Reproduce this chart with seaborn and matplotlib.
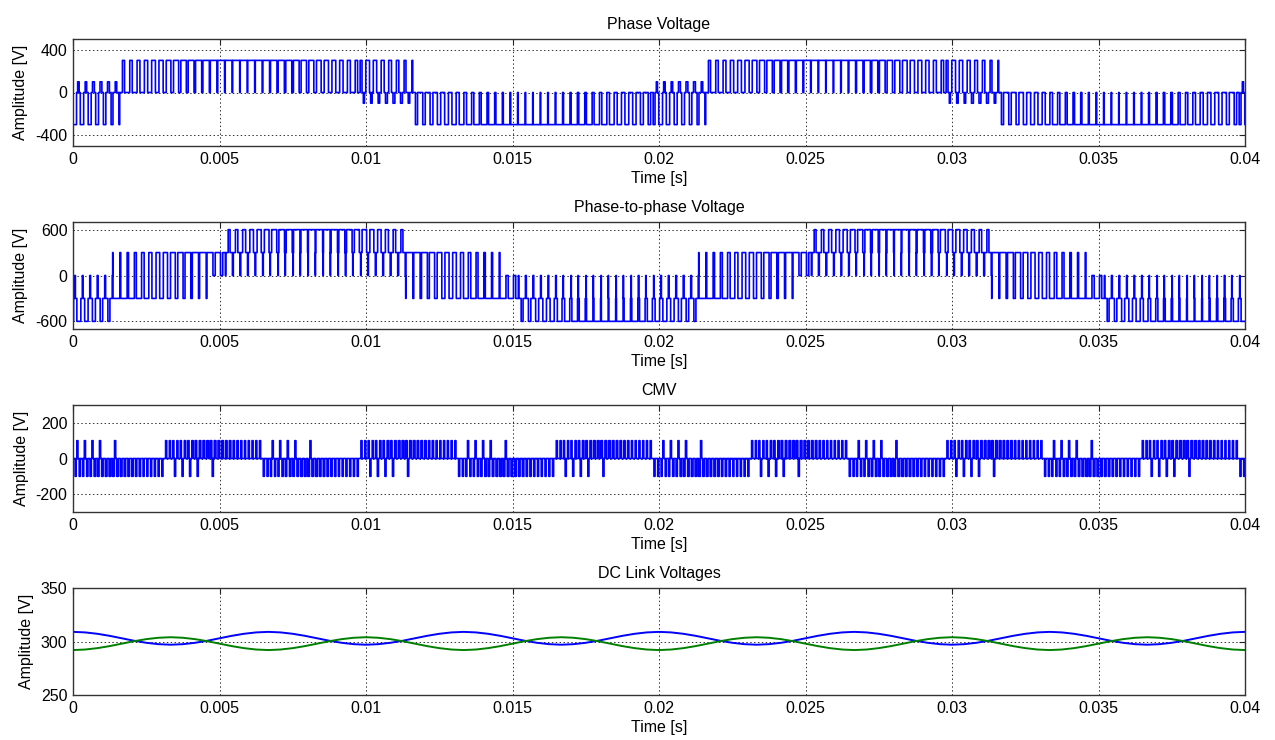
import numpy as np
import pandas as pd
import matplotlib
matplotlib.use("Agg")
import matplotlib.pyplot as plt
import seaborn as sns

# ---------------- data ----------------
titles = ["Phase Voltage", "Phase-to-phase Voltage", "CMV", "DC Link Voltages"]
x_ticks = [0, 0.005, 0.01, 0.015, 0.02, 0.025, 0.03, 0.035, 0.04]
x_tick_labels = ["0", "0.005", "0.01", "0.015", "0.02", "0.025", "0.03", "0.035", "0.04"]
y_ticks = [[-400, 0, 400], [-600, 0, 600], [-200, 0, 200], [250, 300, 350]]
y_tick_labels = [["-400", "0", "400"], ["-600", "0", "600"], ["-200", "0", "200"], ["250", "300", "350"]]
y_limits = [(-500, 500), (-700, 700), (-300, 300), (250, 350)]

carrier_period = 0.02 / 78          # one switching period (s)

# Phase voltage: one positive half-cycle, starting at -0.0002 s, negated on the next half
phase_start = -0.0002
phase_levels = [(0, 100, -300), (0, 300, 0)]        # (base, centre level, side level)
phase_a = [
    [0.15, 0.2, 0.2, 0.25, 0.25, 0.25, 0.2],
    [0.28, 0.33, 0.38, 0.44, 0.5, 0.56, 0.62, 0.68, 0.73, 0.78, 0.82, 0.86, 0.89, 0.91, 0.92, 0.93,
     0.93, 0.92, 0.91, 0.89, 0.86, 0.83, 0.8, 0.76, 0.72, 0.67, 0.62, 0.57, 0.51, 0.45, 0.39, 0.32],
]
phase_b = [
    [0.5, 0.5, 0.4, 0.4, 0.35, 0.3, 0.2],
    [0.0] * 32,
]

# Phase-to-phase voltage: positive half-cycle starting at -0.0148 s
ll_start = -0.0148
ll_levels = [(300, 600, 0), (-300, 300, -300), (-300, 0, -300)]
ll_a = [
    [0.25, 0.32, 0.4, 0.48, 0.55, 0.62, 0.68, 0.75, 0.8, 0.85, 0.88, 0.9,
     0.9, 0.88, 0.85, 0.8, 0.74, 0.67, 0.6, 0.53, 0.46, 0.4, 0.33, 0.27],
    [0.92, 0.85, 0.78, 0.7, 0.62, 0.55, 0.48, 0.4, 0.33, 0.26, 0.2, 0.14, 0.1],
    [0.3, 0.3],
]
ll_b = [
    [0.12, 0.12, 0.1, 0.1, 0.08, 0.1, 0.0, 0.1, 0.0, 0.08, 0.0, 0.08,
     0.0, 0.08, 0.0, 0.08, 0.1, 0.0, 0.1, 0.08, 0.1, 0.12, 0.12, 0.12],
    [0.0] * 13,
    [0.0, 0.0],
]

# Common-mode voltage: one positive sixth (26 half-switching periods), negative sixth first
cmv_start = -0.0002
cmv_levels = [(0, 100, -100)]
cmv_a = [[0.3, 0.3, 0.3, 0.3, 0.3, 0.35, 0.35, 0.4, 0.4, 0.4, 0.45, 0.45, 0.45,
          0.45, 0.45, 0.4, 0.4, 0.4, 0.35, 0.35, 0.3, 0.3, 0.3, 0.3, 0.3, 0.3]]
cmv_b = [[0, 0, 0.3, 0, 0.3, 0, 0.3, 0, 0.3, 0, 0, 0, 0.3,
          0, 0, 0, 0, 0, 0, 0, 0, 0, 0, 0, 0, 0]]

# DC link voltages: one ripple period (0.02/3 s), 16 samples
dc_upper = [309, 308.5, 307.2, 305.3, 303, 300.7, 298.8, 297.5, 297, 297.5, 298.8, 300.7,
            303, 305.3, 307.2, 308.5]
dc_lower = [292, 292.5, 293.8, 295.7, 298, 300.3, 302.2, 303.5, 304, 303.5, 302.2, 300.3,
            298, 295.7, 293.8, 292.5]
dc_periods = 6


def pulse_train(t0, period, levels, alist, blist, first_sign=1, edge=True, t_end=0.04):
    times, vals = [], []
    t, sign = t0, first_sign
    while t < t_end:
        for (m, h, l), aa, bb in zip(levels, alist, blist):
            for a, b in zip(aa, bb):
                g = 1 - a - b
                if edge:
                    parts = ((l, b / 2), (m, g / 2), (h, a), (m, g / 2), (l, b / 2))
                else:
                    parts = ((m, g * 0.3), (h, a), (m, g * 0.4), (l, b), (m, g * 0.3))
                for lev, frac in parts:
                    if frac <= 0:
                        continue
                    times.append(t)
                    vals.append(sign * lev)
                    t += frac * period
        sign = -sign
    times = np.array(times)
    vals = np.array(vals, dtype=float)
    idx0 = np.searchsorted(times, 0.0, side="right") - 1
    keep = (times > 0) & (times < t_end)
    tt = np.concatenate([[0.0], times[keep], [t_end]])
    vv = np.concatenate([[vals[idx0]], vals[keep], [vals[keep][-1]]])
    return pd.DataFrame({"t": tt, "v": vv})


phase_df = pulse_train(phase_start, carrier_period, phase_levels, phase_a, phase_b, 1)
ll_df = pulse_train(ll_start, carrier_period, ll_levels, ll_a, ll_b, 1)
cmv_df = pulse_train(cmv_start, carrier_period / 2, cmv_levels, cmv_a, cmv_b, -1, edge=False)

n_dc = len(dc_upper) * dc_periods
dc_t = np.arange(n_dc + 1) * (0.04 / n_dc)
dc_df = pd.DataFrame({
    "t": np.concatenate([dc_t, dc_t]),
    "v": np.concatenate([np.tile(dc_upper, dc_periods).tolist() + [dc_upper[0]],
                         np.tile(dc_lower, dc_periods).tolist() + [dc_lower[0]]]),
    "s": ["upper"] * (n_dc + 1) + ["lower"] * (n_dc + 1),
})

# ---------------- drawing ----------------
sns.set_style("white")
plt.rcParams["font.family"] = ["Liberation Sans", "DejaVu Sans"]
plt.rcParams["text.color"] = "black"
plt.rcParams["axes.labelcolor"] = "black"

fig = plt.figure(figsize=(12.75, 7.4), dpi=100)
W, H = 1275, 740
left, width = 73 / W, 1172 / W
tops = [39, 222, 405, 588]
axh = 107

axes = []
for top in tops:
    ax = fig.add_axes([left, 1 - (top + axh) / H, width, axh / H])
    axes.append(ax)

for ax, df in zip(axes[:3], [phase_df, ll_df, cmv_df]):
    sns.lineplot(data=df, x="t", y="v", ax=ax, estimator=None, sort=False,
                 drawstyle="steps-post", color="#0000FF", linewidth=1.2)

sns.lineplot(data=dc_df, x="t", y="v", hue="s", ax=axes[3], estimator=None, sort=False,
             palette={"upper": "#0000FF", "lower": "#008000"}, linewidth=1.4, legend=False)

for i, ax in enumerate(axes):
    ax.set_xlim(0, 0.04)
    ax.set_ylim(*y_limits[i])
    ax.set_xticks(x_ticks)
    ax.set_xticklabels(x_tick_labels)
    ax.set_yticks(y_ticks[i])
    ax.set_yticklabels(y_tick_labels[i])
    ax.set_title(titles[i], fontsize=11.5, pad=7, color="black")
    ax.set_xlabel("Time [s]", fontsize=11.5, labelpad=3)
    ax.set_ylabel("Amplitude [V]", fontsize=11.5, labelpad=5)
    ax.tick_params(axis="both", labelsize=11.5, direction="in", length=4, width=0.8,
                   top=True, right=True, colors="#222222", labelcolor="black", pad=4)
    ax.grid(True, color="#333333", linestyle=(0, (1.5, 2.5)), linewidth=0.7)
    for sp in ax.spines.values():
        sp.set_color("#333333")
        sp.set_linewidth(1.0)
        sp.set_visible(True)

fig.savefig("out.png", dpi=100)
